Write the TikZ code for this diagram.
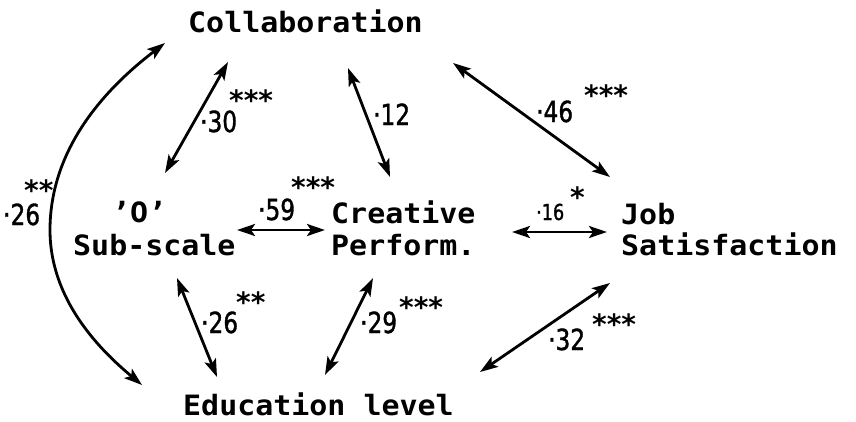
\documentclass[tikz,border=0pt]{standalone}
\usepackage{fontspec}
\usetikzlibrary{arrows.meta}
\newfontfamily\monofam[FakeStretch=1.07]{DejaVu Sans Mono}
\newfontfamily\handfam[FakeStretch=0.8,FakeBold=1.2]{DejaVu Sans}
\newfontfamily\starfam{DejaVu Sans}
\tikzset{
  lbl/.style={anchor=base west, inner sep=0pt, font=\monofam\bfseries\fontsize{28}{32}\selectfont},
  num/.style={anchor=base west, inner sep=0pt, font=\handfam\fontsize{29}{30}\selectfont},
  stars/.style={anchor=north west, inner sep=0pt, font=\starfam\bfseries\fontsize{28}{30}\selectfont},
  link/.style={line width=2.8pt, {Stealth[length=18pt,width=12pt,inset=4pt]}-{Stealth[length=18pt,width=12pt,inset=4pt]}}
}
\begin{document}
\begin{tikzpicture}[x=1pt,y=-1pt]
\useasboundingbox (0,0) rectangle (856,421);
% text nodes
\node[lbl] (collab) at (188,32) {Collaboration};
\node[lbl] (o1) at (112,222) {’O’};
\node[lbl] (o2) at (73,255) {Sub-scale};
\node[lbl] (cre1) at (331,223) {Creative};
\node[lbl] (cre2) at (331,255) {Perform.};
\node[lbl] (job1) at (621,224) {Job};
\node[lbl] (job2) at (621,255) {Satisfaction};
\node[lbl] (edu) at (183,415) {Education level};
% arrow end points
\coordinate (a1s) at (165,173); \coordinate (a1e) at (228,62);
\coordinate (a2s) at (390,177); \coordinate (a2e) at (348,68);
\coordinate (a3s) at (453,63);  \coordinate (a3e) at (610,177);
\coordinate (a4s) at (142,385); \coordinate (a4m) at (50,230); \coordinate (a4e) at (165,43);
\coordinate (a5s) at (237,230); \coordinate (a5e) at (325,230);
\coordinate (a6s) at (512,232); \coordinate (a6e) at (607,232);
\coordinate (a7s) at (177,278); \coordinate (a7e) at (217,377);
\coordinate (a8s) at (373,278); \coordinate (a8e) at (325,375);
\coordinate (a9s) at (610,283); \coordinate (a9e) at (480,372);
\draw[link] (a1s) -- (a1e);
\draw[link] (a2s) -- (a2e);
\draw[link] (a3s) -- (a3e);
\draw[link] (a4s) .. controls (100,350) and (50,300) .. (a4m) .. controls (50,145) and (110,85) .. (a4e);
\draw[link] (a5s) -- (a5e);
\draw[link] (a6s) -- (a6e);
\draw[link] (a7s) -- (a7e);
\draw[link] (a8s) -- (a8e);
\draw[link] (a9s) -- (a9e);
% coefficient labels
\node[num] (n30) at (200,132) {·30};
\node[stars] (s30) at (229,90) {***};
\node[num] (n12) at (373,125) {·12};
\node[num] (n46) at (536,122) {·46};
\node[stars] (s46) at (584,85) {***};
\node[num] (n26a) at (3,225) {·26};
\node[stars] (s26a) at (24,180) {**};
\node[num] (n59) at (258,220) {·59};
\node[stars] (s59) at (291,177) {***};
\node[num, font=\handfam\fontsize{22}{24}\selectfont] (n16) at (536,220) {·16};
\node[stars] (s16) at (570,187) {*};
\node[num] (n26b) at (201,333) {·26};
\node[stars] (s26b) at (236,292) {**};
\node[num] (n29) at (360,333) {·29};
\node[stars] (s29) at (399,297) {***};
\node[num] (n32) at (548,350) {·32};
\node[stars] (s32) at (592,314) {***};
\end{tikzpicture}
\end{document}
